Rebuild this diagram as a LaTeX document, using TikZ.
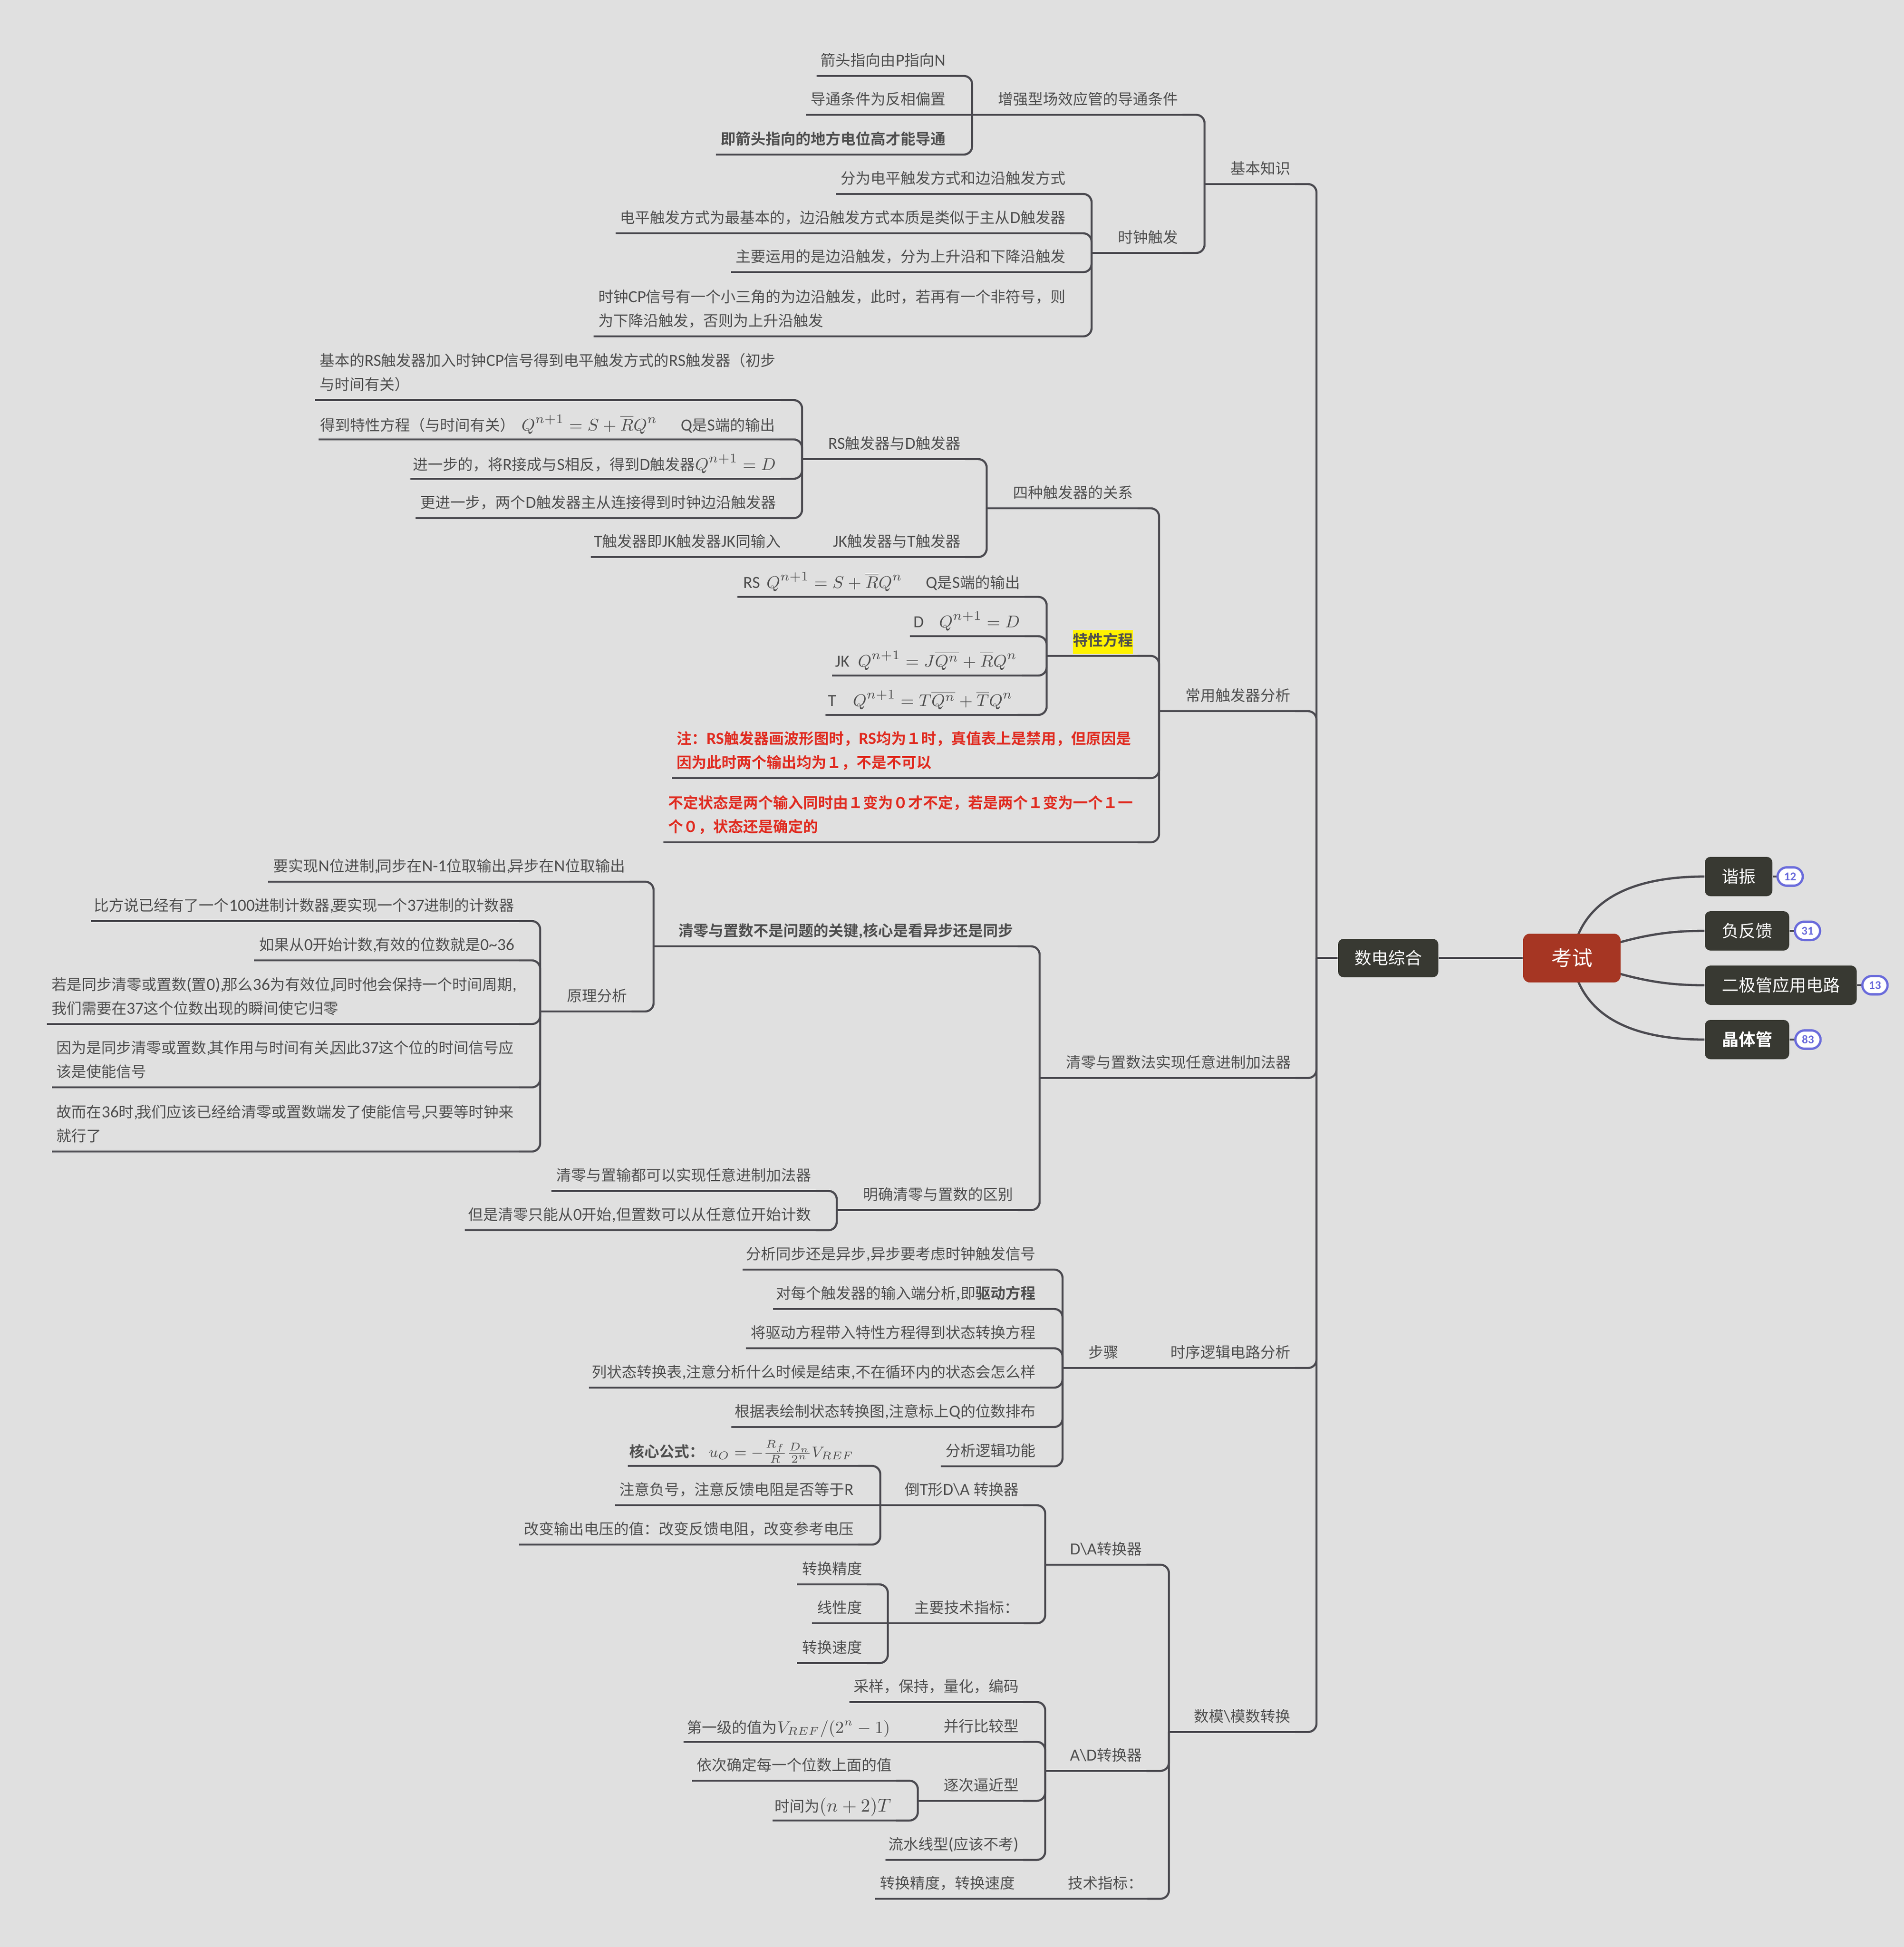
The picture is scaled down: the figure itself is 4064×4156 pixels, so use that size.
\documentclass[tikz,border=0pt]{standalone}
\usepackage[no-math]{fontspec}
\usepackage{amsmath}
\setmainfont{Carlito}[Scale=1.13]
\newfontfamily\cjkf{Noto Sans CJK SC}[BoldFont={Noto Sans CJK SC Bold}]
\XeTeXinterchartokenstate=1
\newXeTeXintercharclass\cjkc
\newcount\cjkcnt
\newcommand{\setcjkrange}[2]{\cjkcnt=#1\relax
  \loop\XeTeXcharclass\cjkcnt=\cjkc\relax\ifnum\cjkcnt<#2\advance\cjkcnt by 1\repeat}
\setcjkrange{"3000}{"303F}
\setcjkrange{"4E00}{"9FFF}
\setcjkrange{"FF00}{"FFEF}
\XeTeXinterchartoks 0 \cjkc={\cjkf}
\XeTeXinterchartoks 4095 \cjkc={\cjkf}
\XeTeXinterchartoks \cjkc 0={\rmfamily}
\XeTeXinterchartoks \cjkc 4095={\rmfamily}
\usetikzlibrary{calc}
\definecolor{bgc}{HTML}{E0E0E0}
\definecolor{linec}{HTML}{4B4A50}
\definecolor{textc}{HTML}{4E4E4E}
\definecolor{boxc}{HTML}{383932}
\definecolor{rootc}{HTML}{A63623}
\definecolor{badgec}{HTML}{6A6BDB}
\definecolor{redc}{HTML}{E02B20}
\pgfdeclarelayer{bg}
\pgfsetlayers{bg,main}
\newcommand{\mfs}{\fontsize{9.4}{12.75}\selectfont}
\newcommand{\mfsb}{\fontsize{8.1}{12.75}\selectfont}
\newcommand{\mfsc}{\fontsize{9}{12.75}\selectfont}
\newcommand{\cm}{,\kern-0.9pt\relax}
\tikzset{
  topic/.style={inner xsep=2.5pt,inner ysep=0pt,outer sep=0pt,text depth=5.4pt,text=textc,
    font=\fontsize{8}{12.75}\selectfont,anchor=south west},
  uline/.style={draw=linec,line width=1.1pt},
  conn/.style={draw=linec,line width=1.1pt},
  rconn/.style={draw=linec,line width=1.1pt,rounded corners=4.5pt},
  curve/.style={draw=linec,line width=1.2pt},
  dbox/.style={fill=boxc,text=white,rounded corners=3pt,inner sep=0pt,minimum height=21pt,
    font=\fontsize{9}{11}\selectfont},
  rootbox/.style={fill=rootc,text=white,rounded corners=3.5pt,inner sep=0pt,minimum width=52pt,minimum height=26pt,
    font=\fontsize{11}{13}\selectfont},
  badge/.style={fill=white,draw=badgec,line width=1.2pt,text=badgec,rounded corners=5pt,inner sep=0pt,
    minimum width=13.5pt,minimum height=9.8pt,font=\fontsize{5.6}{7}\selectfont\bfseries},
}
% single-line topic: name, xl, xr, y (underline), text
\newcommand{\tp}[5]{%
  \pgfmathsetlengthmacro{\mytw}{(#3-#2)*0.25-5}%
  \node[topic] (#1) at (#2,#4) {\makebox[\mytw][r]{#5}};%
  \draw[uline] (#1.south west) -- (#1.south east);}
% multi-line topic
\newcommand{\tpm}[5]{%
  \pgfmathsetlengthmacro{\mytw}{(#3-#2)*0.25-5}%
  \node[topic] (#1) at (#2,#4) {\parbox[b]{\mytw}{\raggedright #5}};%
  \draw[uline] (#1.south west) -- (#1.south east);}
\newcommand{\stem}[2]{\coordinate (#1-t) at (#2,0 |- #1.south);\draw[conn] (#1.south west) -- (#1-t);}
\newcommand{\kid}[2]{\draw[rconn] (#1-t) |- (#2.south east);}
\newcommand{\same}[2]{\draw[conn] (#1.south west) -- (#2.south east);}
\newcommand{\mth}[1]{{\mfs$#1$}}
\newcommand{\mln}[1]{\raisebox{-0.7pt}{#1}}
\begin{document}
\begin{tikzpicture}[x=0.25pt,y=-0.25pt]
\begin{pgfonlayer}{bg}
\fill[bgc] (0,0) rectangle (4064,4156);
\end{pgfonlayer}
\useasboundingbox (0,0) rectangle (4064,4156);
% central boxes
\node[rootbox] (root) at (3355,2045) {考试};
\node[dbox,minimum width=36pt] (xz) at (3711,1871) {谐振};
\node[dbox,minimum width=45pt] (ffk) at (3729,1987) {负反馈};
\node[dbox,minimum width=81pt] (ejg) at (3801,2103) {二极管应用电路};
\node[dbox,minimum width=45pt] (jtg) at (3729,2219) {\textbf{晶体管}};
\node[badge] (b1) at (3821,1871) {12};
\node[badge] (b2) at (3858,1987) {31};
\node[badge] (b3) at (4002,2103) {13};
\node[badge] (b4) at (3859,2219) {83};
\node[dbox,minimum width=53.5pt,minimum height=20.5pt] (sd) at (2963,2045) {数电综合};
\begin{pgfonlayer}{bg}
\draw[curve] (root.center) .. controls (3375,1905) and (3510,1871) .. (xz.west);
\draw[curve] (root.center) .. controls (3490,1995) and (3560,1987) .. (ffk.west);
\draw[curve] (root.center) .. controls (3490,2095) and (3560,2103) .. (ejg.west);
\draw[curve] (root.center) .. controls (3375,2185) and (3510,2219) .. (jtg.west);
\draw[curve] (xz.east) -- (b1.west);
\draw[curve] (ffk.east) -- (b2.west);
\draw[curve] (ejg.east) -- (b3.west);
\draw[curve] (jtg.east) -- (b4.west);
\draw[curve] (root.west) -- (sd.east);
\end{pgfonlayer}
\coordinate (sd-t) at (2810,2045);
\draw[conn] (sd.west) -- (sd-t);
% level 1
\tp{jb}{2615}{2764}{393}{基本知识}
\tp{cy}{2522}{2764}{1518}{常用触发器分析}
\tp{ql}{2265}{2765}{2301}{清零与置数法实现任意进制加法器}
\tp{sx}{2489}{2764}{2920}{时序逻辑电路分析}
\tp{sm}{2540}{2764}{3697}{数模\textbackslash 模数转换}
\kid{sd}{jb}\kid{sd}{cy}\kid{sd}{ql}\kid{sd}{sx}\kid{sd}{sm}
% basic
\tp{zq}{2118}{2524}{245}{增强型场效应管的导通条件}
\tp{sz}{2376}{2524}{540}{时钟触发}
\stem{jb}{2571}\kid{jb}{zq}\kid{jb}{sz}
\tp{a1}{1743}{2028}{162}{箭头指向由P指向N}
\tp{a2}{1720}{2028}{245}{导通条件为反相偏置}
\tp{a3}{1528}{2028}{330}{\textbf{即箭头指向的地方电位高才能导通}}
\stem{zq}{2075}\kid{zq}{a1}\same{zq}{a2}\kid{zq}{a3}
\tp{b1x}{1784}{2284}{414}{分为电平触发方式和边沿触发方式}
\tp{b2x}{1314}{2284}{498}{电平触发方式为最基本的，边沿触发方式本质是类似于主从D触发器}
\tp{b3x}{1560}{2284}{581}{主要运用的是边沿触发，分为上升沿和下降沿触发}
\tpm{b4x}{1267}{2284}{718}{时钟CP信号有一个小三角的为边沿触发，此时，若再有一个非符号，则\\为下降沿触发，否则为上升沿触发}
\stem{sz}{2330}\kid{sz}{b1x}\kid{sz}{b2x}\kid{sz}{b3x}\kid{sz}{b4x}
% flip-flops
\tp{si}{2151}{2428}{1085}{四种触发器的关系}
\tp{tx}{2280}{2428}{1400}{\setlength{\fboxsep}{0pt}\colorbox{yellow}{\rule[-4.5pt]{0pt}{12.75pt}\textbf{特性方程}}}
\tpm{zhu}{1434}{2428}{1661}{\color{redc}\bfseries 注：RS触发器画波形图时，RS均为１时，真值表上是禁用，但原因是\\因为此时两个输出均为１，不是不可以}
\tpm{bd}{1416}{2428}{1798}{\color{redc}\bfseries 不定状态是两个输入同时由１变为０才不定，若是两个１变为一个１一\\个０，状态还是确定的}
\stem{cy}{2474}\kid{cy}{si}\kid{cy}{tx}\kid{cy}{zhu}\kid{cy}{bd}
\tp{rd}{1759}{2060}{980}{RS触发器与D触发器}
\tp{jt}{1769}{2060}{1189}{JK触发器与T触发器}
\stem{si}{2106}\kid{si}{rd}\kid{si}{jt}
\tpm{c1}{672}{1666}{854}{基本的RS触发器加入时钟CP信号得到电平触发方式的RS触发器（初步\\与时间有关）}
\tp{c2}{680}{1664}{938}{\mln{得到特性方程（与时间有关）\hspace{3.5pt}\mth{Q^{n+1}=S+\overline{R}Q^n}\hspace{12.5pt}Q是S端的输出}}
\tp{c3}{876}{1666}{1022}{\mln{进一步的，将R接成与S相反，得到D触发器\mth{Q^{n+1}=D}}}
\tp{c4}{887}{1666}{1106}{更进一步，两个D触发器主从连接得到时钟边沿触发器}
\stem{rd}{1712}\kid{rd}{c1}\kid{rd}{c2}\kid{rd}{c3}\kid{rd}{c4}
\tp{t1}{1261}{1676}{1189}{T触发器即JK触发器JK同输入}
\same{jt}{t1}
\tp{e1}{1574}{2187}{1274}{\mln{RS\hspace{3.5pt}\mth{Q^{n+1}=S+\overline{R}Q^n}\hspace{12.5pt}Q是S端的输出}}
\tp{e2}{1942}{2187}{1358}{\mln{D\hspace{8.2pt}\mth{Q^{n+1}=D}}}
\tp{e3}{1776}{2181}{1442}{\mln{JK\hspace{4.5pt}\mth{Q^{n+1}=J\overline{Q^n}+\overline{R}Q^n}}}
\tp{e4}{1762}{2172}{1526}{\mln{T\hspace{9pt}\mth{Q^{n+1}=T\overline{Q^n}+\overline{T}Q^n}}}
\stem{tx}{2234}\kid{tx}{e1}\kid{tx}{e2}\kid{tx}{e3}\kid{tx}{e4}
% clear / preset
\tp{qh}{1440}{2172}{2020}{\textbf{清零与置数不是问题的关键,核心是看异步还是同步}}
\tp{qm}{1834}{2172}{2583}{明确清零与置数的区别}
\stem{ql}{2219}\kid{ql}{qh}\kid{ql}{qm}
\tp{d1}{572}{1344}{1882}{要实现N位进制\cm 同步在N-1位取输出\cm 异步在N位取输出}
\tp{yl}{1198}{1348}{2159}{原理分析}
\stem{qh}{1395}\kid{qh}{d1}\kid{qh}{yl}
\tp{f1}{194}{1108}{1966}{比方说已经有了一个100进制计数器\cm 要实现一个37进制的计数器}
\tp{f2}{542}{1108}{2050}{如果从0开始计数\cm 有效的位数就是0\textasciitilde 36}
\tpm{f3}{100}{1108}{2186}{若是同步清零或置数(置0)\cm 那么36为有效位\cm 同时他会保持一个时间周期\cm\\我们需要在37这个位数出现的瞬间使它归零}
\tpm{f4}{111}{1108}{2321}{因为是同步清零或置数\cm 其作用与时间有关\cm 因此37这个位的时间信号应\\该是使能信号}
\tpm{f5}{111}{1108}{2458}{故而在36时\cm 我们应该已经给清零或置数端发了使能信号\cm 只要等时钟来\\就行了}
\stem{yl}{1153}\kid{yl}{f1}\kid{yl}{f2}\kid{yl}{f3}\kid{yl}{f4}\kid{yl}{f5}
\tp{g1}{1177}{1741}{2542}{清零与置输都可以实现任意进制加法器}
\tp{g2}{992}{1741}{2626}{但是清零只能从0开始,但置数可以从任意位开始计数}
\stem{qm}{1786}\kid{qm}{g1}\kid{qm}{g2}
% sequential
\tp{bz}{2312}{2397}{2920}{步骤}
\same{sx}{bz}
\tp{h1}{1585}{2220}{2710}{分析同步还是异步,异步要考虑时钟触发信号}
\tp{h2}{1650}{2220}{2794}{对每个触发器的输入端分析,即\textbf{驱动方程}}
\tp{h3}{1592}{2220}{2878}{将驱动方程带入特性方程得到状态转换方程}
\tp{h4}{1257}{2220}{2962}{列状态转换表,注意分析什么时候是结束,不在循环内的状态会怎么样}
\tp{h5}{1561}{2220}{3046}{根据表绘制状态转换图,注意标上Q的位数排布}
\tp{h6}{2008}{2220}{3130}{分析逻辑功能}
\stem{bz}{2268}\kid{bz}{h1}\kid{bz}{h2}\kid{bz}{h3}\kid{bz}{h4}\kid{bz}{h5}\kid{bz}{h6}
% converters
\tp{da}{2279}{2447}{3340}{D\textbackslash A转换器}
\tp{ad}{2278}{2447}{3780}{A\textbackslash D转换器}
\tp{js}{2268}{2449}{4053}{技术指标：}
\stem{sm}{2495}\kid{sm}{da}\kid{sm}{ad}\kid{sm}{js}
\tp{dt}{1925}{2184}{3213}{倒T形D\textbackslash A 转换器}
\tp{zy}{1941}{2185}{3465}{主要技术指标：}
\stem{da}{2231}\kid{da}{dt}\kid{da}{zy}
\tp{i1}{1340}{1832}{3129}{\mln{\textbf{核心公式：}\hspace{2.5pt}{\mfsb$u_O=-\frac{R_f}{R}\frac{D_n}{2^n}V_{REF}$}}}
\tp{i2}{1313}{1832}{3213}{注意负号，注意反馈电阻是否等于R}
\tp{i3}{1108}{1832}{3297}{改变输出电压的值：改变反馈电阻，改变参考电压}
\stem{dt}{1879}\kid{dt}{i1}\same{dt}{i2}\kid{dt}{i3}
\tp{j1}{1701}{1850}{3382}{转换精度}
\tp{j2}{1733}{1850}{3465}{线性度}
\tp{j3}{1701}{1850}{3550}{转换速度}
\stem{zy}{1895}\kid{zy}{j1}\same{zy}{j2}\kid{zy}{j3}
\tp{k1}{1813}{2184}{3633}{采样，保持，量化，编码}
\tp{k2}{2006}{2184}{3718}{并行比较型}
\tp{k3}{2006}{2184}{3844}{逐次逼近型}
\tp{k4}{1890}{2184}{3970}{流水线型(应该不考)}
\stem{ad}{2231}\kid{ad}{k1}\kid{ad}{k2}\kid{ad}{k3}\kid{ad}{k4}
\tp{k21}{1459}{1910}{3718}{\mln{第一级的值为{\mfsc$V_{REF}/(2^n-1)$}}}
\same{k2}{k21}
\tp{k31}{1477}{1913}{3801}{依次确定每一个位数上面的值}
\tp{k32}{1649}{1912}{3886}{\mln{时间为{\fontsize{9.8}{12.75}\selectfont$(n+2)T$}}}
\stem{k3}{1959}\kid{k3}{k31}\kid{k3}{k32}
\tp{l1}{1868}{2176}{4053}{转换精度，转换速度}
\same{js}{l1}
\end{tikzpicture}
\end{document}
